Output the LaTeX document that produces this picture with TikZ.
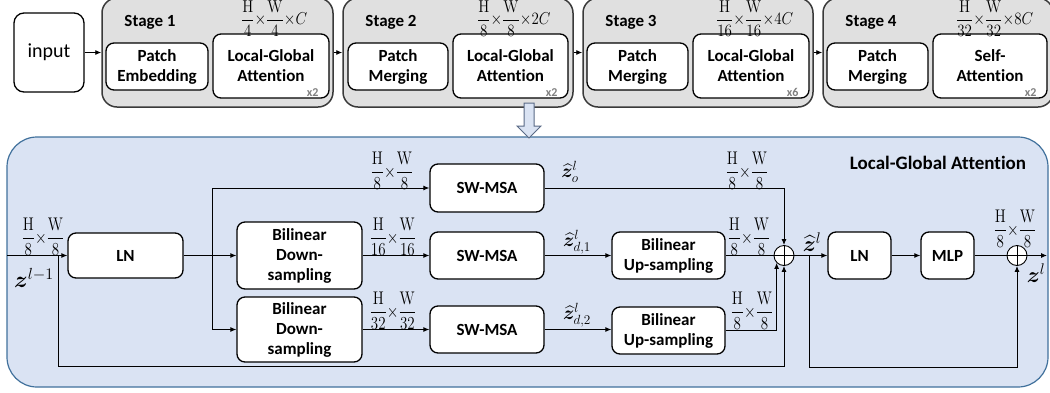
\RequirePackage{fix-cm}
\documentclass[tikz,border=0pt]{standalone}
\usepackage{amsmath}
\usepackage{bm}
\usepackage{graphicx}
\usepackage[no-math]{fontspec}
\setmainfont{Carlito}[Ligatures=NoCommon]
\usetikzlibrary{arrows.meta,calc}
\definecolor{stagefill}{HTML}{E0E0E0}
\definecolor{stageline}{HTML}{3A3A3A}
\definecolor{bluefill}{HTML}{DAE3F3}
\definecolor{blueline}{HTML}{41719C}
\definecolor{arrline}{HTML}{5A6A86}
\newcommand{\fr}[2]{\dfrac{\mathrm{#1}}{#2}}
\newcommand{\dimtxt}[1]{\scalebox{1}[1.22]{$#1$}}
\newcommand{\stgtxt}[1]{\scalebox{1}[1.15]{$#1$}}
\begin{document}
\begin{tikzpicture}[x=1pt,y=-1pt,
  wbox/.style={draw=black, line width=1.3pt, fill=white, rounded corners=8pt, inner sep=0pt, align=center, font=\fontsize{17}{20}\selectfont\bfseries},
  stagebox/.style={draw=stageline, line width=1.5pt, fill=stagefill, rounded corners=15pt, inner sep=0pt},
  conn/.style={line width=0.9pt, draw=black},
  arr/.style={conn, -{Latex[length=6pt,width=5pt]}},
  dimlbl/.style={inner sep=0pt, font=\fontsize{15}{16}\selectfont},
  stagelbl/.style={inner sep=0pt, font=\fontsize{17}{18}\selectfont\bfseries},
  rep/.style={inner sep=0pt, text=gray, font=\fontsize{12}{12}\selectfont\bfseries, anchor=south east},
  sumnode/.style={draw=black, line width=0.9pt, fill=white, circle, minimum size=20pt, inner sep=0pt,
    path picture={\draw[line width=0.9pt] (path picture bounding box.north) -- (path picture bounding box.south) (path picture bounding box.west) -- (path picture bounding box.east);}},
  zlbl/.style={inner sep=0pt},
]
\useasboundingbox (0,0) rectangle (1050,392);
\clip (0,0) rectangle (1050,392);

% ---------- top row ----------
\node[draw=black, line width=1.3pt, rounded corners=10pt, minimum width=70pt, minimum height=79pt, fill=white, inner sep=0pt, font=\fontsize{20}{22}\selectfont] (input) at (49,52.5) {input};

\node[stagebox, minimum width=231pt, minimum height=109pt] (s1) at (217.5,52.5) {};
\node[stagebox, minimum width=230pt, minimum height=109pt] (s2) at (458,52.5) {};
\node[stagebox, minimum width=230pt, minimum height=109pt] (s3) at (698,52.5) {};
\node[stagebox, minimum width=230pt, minimum height=109pt] (s4) at (938,52.5) {};

\node[stagelbl] (t1) at (150,22) {Stage 1};
\node[stagelbl] (t2) at (391,22) {Stage 2};
\node[stagelbl] (t3) at (631,22) {Stage 3};
\node[stagelbl] (t4) at (871,22) {Stage 4};

\node[wbox, minimum width=102pt, minimum height=47pt] (pe1) at (157,66.5) {Patch\\Embedding};
\node[wbox, minimum width=116pt, minimum height=64pt] (lg1) at (271,66) {Local-Global\\Attention};
\node[wbox, minimum width=100pt, minimum height=47pt] (pm2) at (398,66.5) {Patch\\Merging};
\node[wbox, minimum width=115pt, minimum height=64pt] (lg2) at (510.5,66) {Local-Global\\Attention};
\node[wbox, minimum width=101pt, minimum height=47pt] (pm3) at (637.5,66.5) {Patch\\Merging};
\node[wbox, minimum width=116pt, minimum height=64pt] (lg3) at (751,66) {Local-Global\\Attention};
\node[wbox, minimum width=101pt, minimum height=47pt] (pm4) at (877.5,66.5) {Patch\\Merging};
\node[wbox, minimum width=114pt, minimum height=64pt] (sa4) at (990,66) {Self-\\Attention};

\node[rep] (r1) at ($(lg1.south east)+(-11,-2)$) {x2};
\node[rep] (r2) at ($(lg2.south east)+(-11,-2)$) {x2};
\node[rep] (r3) at ($(lg3.south east)+(-11,-2)$) {x6};
\node[rep] (r4) at ($(sa4.south east)+(-11,-2)$) {x2};

\node[dimlbl, anchor=west] (f1) at (241,18.5) {\stgtxt{\fr{H}{4}{\times}\fr{W}{4}{\times}C}};
\node[dimlbl, anchor=west] (f2) at (477,18.5) {\stgtxt{\fr{H}{8}{\times}\fr{W}{8}{\times}2C}};
\node[dimlbl, anchor=west] (f3) at (716,18.5) {\stgtxt{\fr{H}{16}{\times}\fr{W}{16}{\times}4C}};
\node[dimlbl, anchor=west] (f4) at (956,18.5) {\stgtxt{\fr{H}{32}{\times}\fr{W}{32}{\times}8C}};

\draw[arr] (input.east) -- (s1.west);
\draw[arr] (s1.east) -- (s2.west);
\draw[arr] (s2.east) -- (s3.west);
\draw[arr] (s3.east) -- (s4.west);

% ---------- big box ----------
\node[draw=blueline, fill=bluefill, line width=1.2pt, rounded corners=30pt, minimum width=1041pt, minimum height=250pt, inner sep=0pt] (lga) at (527.5,262) {};

\draw[fill=bluefill, draw=arrline, line width=1pt]
  (524,103) -- (534,103) -- (534,126) -- (541,126) -- (529,138) -- (517,126) -- (524,126) -- cycle;

\node[inner sep=0pt, font=\fontsize{19}{20}\selectfont\bfseries] (title) at (938,163) {Local-Global Attention};

\node[wbox, minimum width=115pt, minimum height=45pt] (ln1) at (125.5,255.5) {LN};
\node[wbox, minimum width=125pt, minimum height=67pt] (bd1) at (299.5,255.5) {Bilinear\\Down-\\sampling};
\node[wbox, minimum width=125pt, minimum height=65pt] (bd2) at (299.5,329.5) {Bilinear\\Down-\\sampling};
\node[wbox, minimum width=114pt, minimum height=48pt] (sw1) at (487,188) {SW-MSA};
\node[wbox, minimum width=114pt, minimum height=47pt] (sw2) at (487,255.5) {SW-MSA};
\node[wbox, minimum width=114pt, minimum height=47pt] (sw3) at (487,329.5) {SW-MSA};
\node[wbox, minimum width=113pt, minimum height=47pt] (bu1) at (668.5,255.5) {Bilinear\\Up-sampling};
\node[wbox, minimum width=113pt, minimum height=47pt] (bu2) at (668.5,330.5) {Bilinear\\Up-sampling};
\node[sumnode] (p1) at (784,255.5) {};
\node[wbox, minimum width=63pt, minimum height=47pt] (ln2) at (859.5,255.5) {LN};
\node[wbox, minimum width=53pt, minimum height=47pt] (mlp) at (947.5,255.5) {MLP};
\node[sumnode] (p2) at (1017,255.5) {};

\coordinate (inL) at (7,255.5);
\coordinate (sk1) at (58,255.5);
\coordinate (skb) at (58,366);
\coordinate (br) at (212,255.5);
\coordinate (br2) at (809,255.5);
\coordinate (br2b) at (809,367);
\coordinate (out) at (1047,255.5);

\draw[arr] (inL) -- (ln1.west);
\draw[arr] (sk1) -- (skb) -| (p1.south);
\draw[arr] (ln1.east) -- (bd1.west);
\draw[arr] (br) |- (sw1.west);
\draw[arr] (br) |- (bd2.west);
\draw[arr] (bd1.east) -- (sw2.west);
\draw[arr] (bd2.east) -- (bd2.east -| sw3.west);
\draw[arr] (sw1.east) -| (p1.north);
\draw[arr] (sw2.east) -- (bu1.west);
\draw[arr] (sw3.east) -- (sw3.east -| bu2.west);
\draw[conn] (bu1.east) -- (p1.west);
\draw[arr] (bu2.east) -| (p1.225);
\draw[arr] (p1.east) -- (ln2.west);
\draw[arr] (br2) -- (br2b) -| (p2.south);
\draw[arr] (ln2.east) -- (mlp.west);
\draw[conn] (mlp.east) -- (p2.west);
\draw[arr] (p2.east) -- (out);

% labels
\node[dimlbl] (d0) at (43,237) {\dimtxt{\fr{H}{8}{\times}\fr{W}{8}}};
\node[zlbl, font=\fontsize{23}{24}\selectfont] (z0) at (34,278) {$\bm{z}^{l-1}$};
\node[dimlbl] (d1) at (392,171) {\dimtxt{\fr{H}{8}{\times}\fr{W}{8}}};
\node[dimlbl] (d2) at (393,237) {\dimtxt{\fr{H}{16}{\times}\fr{W}{16}}};
\node[dimlbl] (d3) at (393,311) {\dimtxt{\fr{H}{32}{\times}\fr{W}{32}}};
\node[zlbl, font=\fontsize{19}{20}\selectfont] (zo) at (570,172) {$\widehat{\bm{z}}^{l}_{o}$};
\node[zlbl, font=\fontsize{19}{20}\selectfont] (zd1) at (577,242) {$\widehat{\bm{z}}^{l}_{d,1}$};
\node[zlbl, font=\fontsize{19}{20}\selectfont] (zd2) at (577,315) {$\widehat{\bm{z}}^{l}_{d,2}$};
\node[dimlbl] (d4) at (747,171) {\dimtxt{\fr{H}{8}{\times}\fr{W}{8}}};
\node[dimlbl] (d5) at (749,237) {\dimtxt{\fr{H}{8}{\times}\fr{W}{8}}};
\node[dimlbl] (d6) at (752,311) {\dimtxt{\fr{H}{8}{\times}\fr{W}{8}}};
\node[zlbl, font=\fontsize{22}{23}\selectfont] (zh) at (812,242) {$\widehat{\bm{z}}^{l}$};
\node[dimlbl] (d7) at (1015,229) {\dimtxt{\fr{H}{8}{\times}\fr{W}{8}}};
\node[zlbl, font=\fontsize{22}{23}\selectfont] (zl) at (1036,273) {$\bm{z}^{l}$};
\end{tikzpicture}
\end{document}
